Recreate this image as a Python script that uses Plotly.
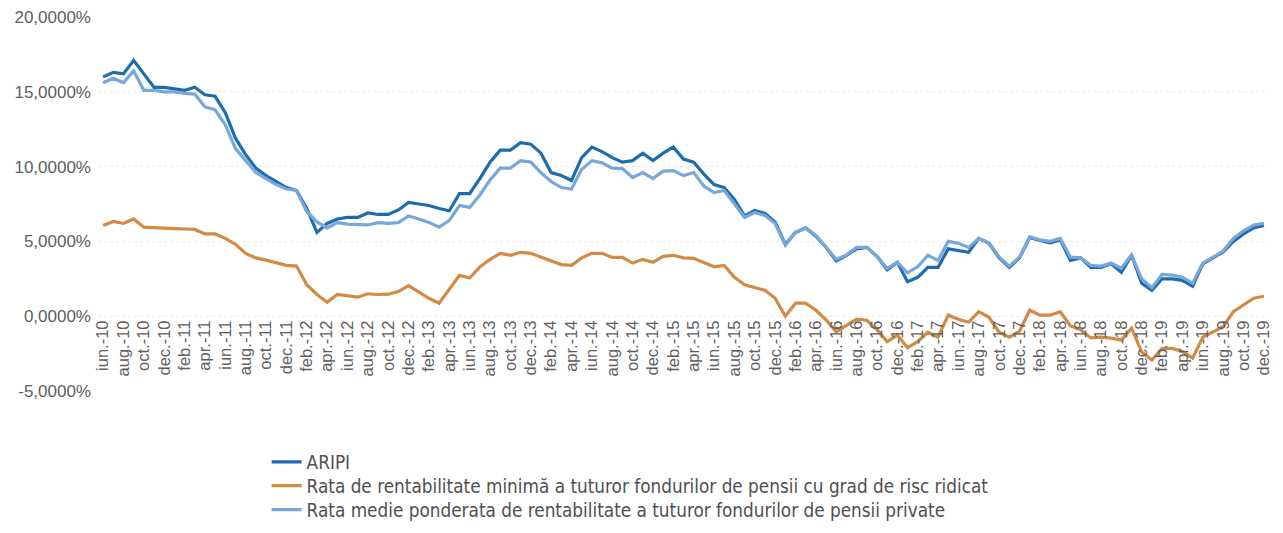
import plotly.graph_objects as go

# ---- data -------------------------------------------------------------
month_abbr = ["ian.", "feb.", "mar.", "apr.", "mai", "iun.", "iul.", "aug.", "sep.", "oct.", "nov.", "dec."]
years = ["10", "11", "12", "13", "14", "15", "16", "17", "18", "19"]
start_month_index = 5  # iun. 2010
months = []
for yi, yy in enumerate(years):
    first = start_month_index if yi == 0 else 0
    for mi in range(first, 12):
        months.append(f"{month_abbr[mi]}-{yy}")

aripi = [
    16.0, 16.3, 16.2, 17.1, 16.2, 15.3, 15.3,
    15.2, 15.1, 15.3, 14.8, 14.7, 13.6, 11.9, 10.8, 9.9, 9.4, 9.0, 8.6,
    8.4, 7.2, 5.6, 6.2, 6.5, 6.6, 6.6, 6.9, 6.8, 6.8, 7.1, 7.6,
    7.5, 7.4, 7.2, 7.05, 8.2, 8.2, 9.2, 10.3, 11.1, 11.1, 11.6, 11.5,
    10.9, 9.6, 9.4, 9.07, 10.6, 11.3, 11.0, 10.6, 10.3, 10.4, 10.9, 10.4,
    10.9, 11.3, 10.5, 10.3, 9.5, 8.8, 8.6, 7.8, 6.7, 7.07, 6.87, 6.3,
    4.8, 5.6, 5.9, 5.35, 4.6, 3.7, 4.07, 4.5, 4.6, 4.0, 3.1, 3.6,
    2.3, 2.6, 3.27, 3.27, 4.5, 4.4, 4.27, 5.2, 4.87, 3.9, 3.27, 3.9,
    5.27, 5.07, 4.9, 5.1, 3.73, 3.9, 3.27, 3.27, 3.5, 2.93, 4.07, 2.2,
    1.73, 2.5, 2.5, 2.4, 2.0, 3.5, 3.9, 4.3, 5.0, 5.5, 5.9, 6.07,
]

rata_minima = [
    6.07, 6.33, 6.2, 6.5, 5.95, 5.9, 5.87,
    5.85, 5.83, 5.8, 5.5, 5.5, 5.2, 4.8, 4.2, 3.9, 3.75, 3.6, 3.4,
    3.35, 2.1, 1.45, 0.93, 1.45, 1.35, 1.27, 1.5, 1.45, 1.47, 1.65, 2.05,
    1.6, 1.2, 0.87, 1.8, 2.73, 2.55, 3.3, 3.8, 4.2, 4.07, 4.27, 4.2,
    3.95, 3.7, 3.45, 3.4, 3.9, 4.2, 4.2, 3.93, 3.93, 3.55, 3.8, 3.6,
    4.0, 4.07, 3.9, 3.87, 3.6, 3.3, 3.4, 2.6, 2.1, 1.93, 1.73, 1.2,
    0.0, 0.87, 0.87, 0.4, -0.25, -1.05, -0.6, -0.2, -0.27, -0.9, -1.7, -1.27,
    -2.1, -1.7, -1.07, -1.4, 0.07, -0.2, -0.4, 0.3, -0.07, -1.07, -1.4, -1.0,
    0.4, 0.07, 0.07, 0.3, -0.65, -0.9, -1.45, -1.4, -1.47, -1.6, -0.8, -2.4,
    -2.93, -2.15, -2.15, -2.35, -2.8, -1.4, -1.05, -0.7, 0.3, 0.75, 1.2, 1.33,
]

rata_medie = [
    15.6, 15.9, 15.6, 16.4, 15.1, 15.1, 15.0,
    15.0, 14.9, 14.85, 14.0, 13.8, 12.8, 11.2, 10.4, 9.6, 9.2, 8.8, 8.5,
    8.4, 7.0, 6.3, 5.9, 6.25, 6.15, 6.1, 6.1, 6.25, 6.2, 6.25, 6.7,
    6.5, 6.27, 5.95, 6.4, 7.4, 7.27, 8.1, 9.1, 9.9, 9.9, 10.4, 10.3,
    9.6, 9.0, 8.6, 8.5, 9.8, 10.4, 10.25, 9.9, 9.87, 9.27, 9.6, 9.2,
    9.7, 9.73, 9.4, 9.6, 8.7, 8.27, 8.4, 7.5, 6.6, 6.93, 6.73, 6.2,
    4.75, 5.6, 5.9, 5.4, 4.6, 3.8, 4.1, 4.6, 4.6, 4.0, 3.2, 3.6,
    2.9, 3.3, 4.07, 3.73, 5.0, 4.87, 4.6, 5.2, 4.9, 3.95, 3.35, 3.95,
    5.3, 5.1, 5.0, 5.2, 3.95, 3.9, 3.4, 3.35, 3.55, 3.2, 4.1, 2.5,
    1.9, 2.8, 2.75, 2.6, 2.2, 3.55, 3.95, 4.35, 5.2, 5.7, 6.1, 6.2,
]

series_names = [
    "ARIPI",
    "Rata de rentabilitate minimă a tuturor fondurilor de pensii cu grad de risc ridicat",
    "Rata medie ponderata de rentabilitate a tuturor fondurilor de pensii private",
]

y_tick_values = [-5, 0, 5, 10, 15, 20]
y_tick_labels = [f"{v:.4f}".replace(".", ",") + "%" for v in y_tick_values]

# ---- figure -----------------------------------------------------------
colors = ["#1c6cb0", "#d38a43", "#78a7d9"]
series = [aripi, rata_minima, rata_medie]
legend_ids = ["legend", "legend2", "legend3"]
legend_y = [-0.19, -0.254, -0.318]

legend_font = dict(family="Liberation Sans Narrow, DejaVu Sans Condensed, sans-serif",
                   size=18.8, color="#505050")

fig = go.Figure()
for i, (name, vals) in enumerate(zip(series_names, series)):
    fig.add_trace(go.Scatter(
        x=months, y=vals, name=name, mode="lines",
        line=dict(color=colors[i], width=3.2),
        legend=legend_ids[i],
    ))

legend_layout = {}
for lid, ly in zip(legend_ids, legend_y):
    legend_layout[lid] = dict(
        x=0.144, y=ly, xanchor="left", yanchor="middle",
        orientation="v", font=legend_font, bgcolor="rgba(0,0,0,0)",
    )

fig.update_layout(
    width=1275, height=525,
    margin=dict(l=90, r=14, t=9, b=142, autoexpand=False),
    paper_bgcolor="white", plot_bgcolor="white",
    showlegend=True,
    font=dict(family="Liberation Sans, Arial, sans-serif", color="#595959"),
    **legend_layout,
)

fig.update_xaxes(
    type="category",
    range=[-0.5, len(months) - 0.5],
    tickmode="array",
    tickvals=months[::2],
    ticktext=months[::2],
    tickangle=-90,
    tickfont=dict(size=16.5, color="#606060"),
    showgrid=False, showline=False, ticks="",
    anchor="free", position=0.2, automargin=False,
)
fig.update_yaxes(
    range=[-5, 20],
    tickmode="array",
    tickvals=y_tick_values,
    ticktext=y_tick_labels,
    tickfont=dict(size=17, color="#606060"),
    ticklabelstandoff=6,
    ticklabeloverflow="allow",
    showgrid=True, gridcolor="#ebebeb", griddash="dot", gridwidth=1,
    zeroline=False, showline=False, ticks="", automargin=False,
)

fig.write_html("out.html")
